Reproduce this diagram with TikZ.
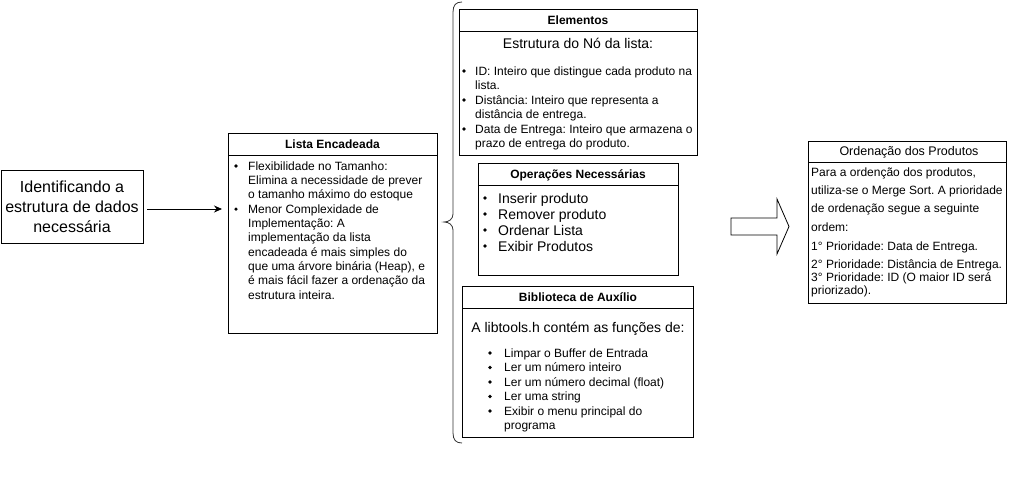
\documentclass[tikz,border=0pt]{standalone}
\usepackage{fontspec}
\setmainfont{Liberation Sans}
\usepackage{tikz}
\usetikzlibrary{arrows.meta}
\frenchspacing

\begin{document}
\begin{tikzpicture}[x=1pt, y=-1pt,
	box/.style={draw, line width=0.8pt, inner sep=0pt, anchor=north west},
	hd/.style={font=\bfseries\fontsize{12}{14}\selectfont, anchor=base, inner sep=0pt},
	txt/.style={font=\fontsize{12}{14}\selectfont, anchor=base west, inner sep=0pt},
	big/.style={font=\fontsize{14}{16}\selectfont, inner sep=0pt},
	dot/.style={circle, fill, inner sep=0pt, minimum size=3.6pt},
	flow/.style={-{Stealth[length=8pt, width=7pt]}, line width=0.8pt}]
				\useasboundingbox (0,0) rectangle (1009,485);
				
				% entrada
				\node[draw, line width=0.8pt, minimum width=142pt, minimum height=73pt, align=center,
				      font=\fontsize{16}{20}\selectfont] (idbox) at (72,206.5)
				      {Identificando a\\estrutura de dados\\necessária};
				
				% lista encadeada
				\node[box, minimum width=209pt, minimum height=200pt] (lista) at (228,133) {};
				\draw[line width=0.8pt] ([yshift=-22pt]lista.north west) -- ([yshift=-22pt]lista.north east);
				\node[hd] (listaH) at (332.5,148) {Lista Encadeada};
				\foreach \t [count=\i from 0] in {Flexibilidade no Tamanho:, Elimina a necessidade de prever,
					o tamanho máximo do estoque, Menor Complexidade de, Implementação: A,
					implementação da lista, encadeada é mais simples do, {que uma árvore binária (Heap), e},
					é mais fácil fazer a ordenação da, estrutura inteira.}
					\node[txt] (lista\i) at (248,170+14.35*\i) {\t};
				\foreach \i in {0,3}
					\node[dot] (listaD\i) at (236,166+14.35*\i) {};
				
				\draw[flow, shorten <=4pt, shorten >=6pt] ([yshift=-2.5pt]idbox.east) -- ([yshift=-2.5pt]idbox.east -| lista.west);
				
				% chave
				\draw[line width=0.8pt, black!80] (462,2) .. controls (456,2) and (453,5) .. (453,12) -- (453,214)
					.. controls (453,219) and (449,222) .. (444,222)
					.. controls (449,222) and (453,225) .. (453,230) -- (453,433)
					.. controls (453,440) and (456,443) .. (462,443);
				
				% elementos
				\node[box, minimum width=238pt, minimum height=146pt] (elem) at (459,9) {};
				\draw[line width=0.8pt] ([yshift=-22pt]elem.north west) -- ([yshift=-22pt]elem.north east);
				\node[hd] (elemH) at (578,24) {Elementos};
				\node[big] (elemS) at (578,43) {Estrutura do Nó da lista:};
				\foreach \t [count=\i from 0] in {ID: Inteiro que distingue cada produto na, lista.,
					Distância: Inteiro que representa a, distância de entrega.,
					Data de Entrega: Inteiro que armazena o, prazo de entrega do produto.}
					\node[txt] (elem\i) at (475,75+14.5*\i) {\t};
				\foreach \i in {0,2,4}
					\node[dot] (elemD\i) at (464,71+14.5*\i) {};
				
				% operacoes
				\node[box, minimum width=200pt, minimum height=112pt] (oper) at (478,163) {};
				\draw[line width=0.8pt] ([yshift=-22pt]oper.north west) -- ([yshift=-22pt]oper.north east);
				\node[hd] (operH) at (578,178) {Operações Necessárias};
				\foreach \t [count=\i from 0] in {Inserir produto, Remover produto, Ordenar Lista, Exibir Produtos}
					\node[big, anchor=base west] (oper\i) at (498,203+16*\i) {\t};
				\foreach \i in {0,...,3}
					\node[dot] (operD\i) at (485,198+16*\i) {};
				
				% biblioteca
				\node[box, minimum width=231pt, minimum height=151pt] (bib) at (462,286) {};
				\draw[line width=0.8pt] ([yshift=-22pt]bib.north west) -- ([yshift=-22pt]bib.north east);
				\node[hd] (bibH) at (578,301) {Biblioteca de Auxílio};
				\node[big] (bibS) at (578,329) {A libtools.h contém as funções de:};
				\foreach \t [count=\i from 0] in {Limpar o Buffer de Entrada, Ler um número inteiro,
					Ler um número decimal (float), Ler uma string, Exibir o menu principal do, programa}
					\node[txt] (bib\i) at (504,357+14.5*\i) {\t};
				\foreach \i in {0,...,4}
					\node[dot] (bibD\i) at (490,353+14.5*\i) {};
				
				% seta grande
				\draw[line width=0.8pt] (731,218) -- (777,218) -- (777,199) -- (789,226.5)
					-- (777,254) -- (777,235) -- (731,235) -- cycle;
				
				% ordenacao
				\node[box, minimum width=198pt, minimum height=162pt] (orden) at (808,141) {};
				\draw[line width=0.8pt] ([yshift=-21pt]orden.north west) -- ([yshift=-21pt]orden.north east);
				\node[font=\fontsize{12.5}{14}\selectfont, anchor=base, inner sep=0pt] (ordenH) at (909,155.5) {Ordenação dos Produtos};
				\foreach \y/\t [count=\i] in {172/{Para a ordenção dos produtos,}, 190/{utiliza-se o Merge Sort. A prioridade},
					208/{de ordenação segue a seguinte}, 227/{ordem:}, 246/{1° Prioridade: Data de Entrega.},
					264/{2° Prioridade: Distância de Entrega.}, 277/{3° Prioridade: ID (O maior ID será},
					290/{priorizado).}}
					\node[txt] (orden\i) at (811,\y+4) {\t};
				
\end{tikzpicture}
\end{document}
